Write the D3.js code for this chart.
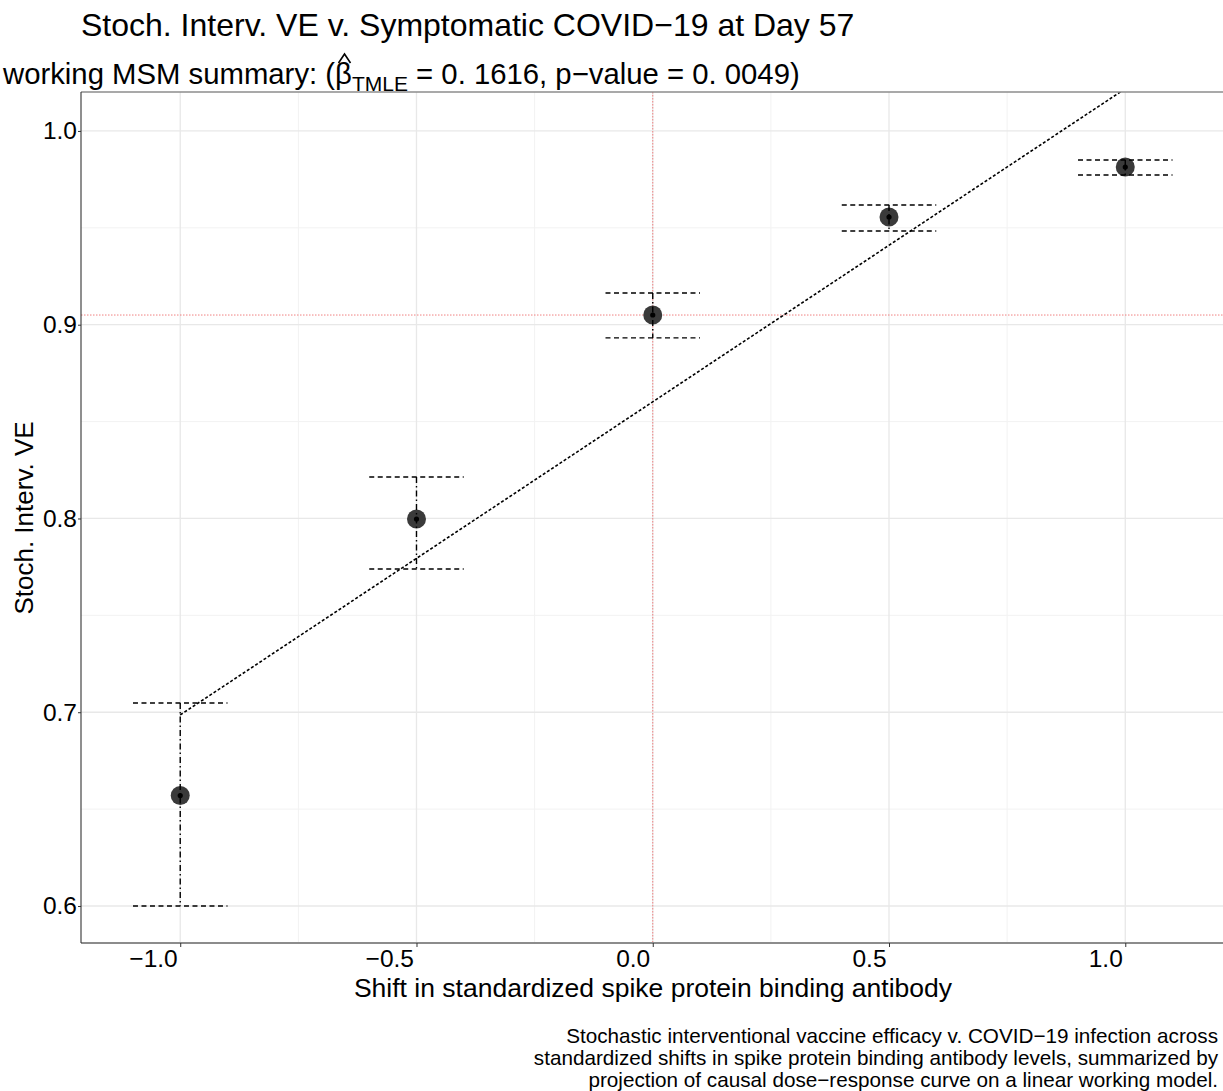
<!DOCTYPE html>
<html>
<head>
<meta charset="utf-8">
<script src="https://cdn.jsdelivr.net/npm/d3@7"></script>
<style>
  html, body { margin: 0; padding: 0; background: #ffffff; }
  svg { display: block; font-family: "Liberation Sans", Arial, Helvetica, sans-serif; }
</style>
</head>
<body>
<svg id="chart" width="1223" height="1091"></svg>
<script>
// Shifts in standardized spike protein binding antibody
const shifts = [-1.0, -0.5, 0.0, 0.5, 1.0];
// Stochastic interventional VE estimates and 95% CI bounds
const veEstimate = [0.657, 0.7997, 0.905, 0.9556, 0.9814];
const veLower    = [0.600, 0.7739, 0.8932, 0.9484, 0.9773];
const veUpper    = [0.7048, 0.8214, 0.9164, 0.9618, 0.9850];
// Linear working MSM
const msmBeta = 0.1616;
const msmIntercept = 0.8602;
const msmRange = [-1.0, 1.0];
// Axis ticks
const xTicks = [-1.0, -0.5, 0.0, 0.5, 1.0];
const xMinorTicks = [-0.75, -0.25, 0.25, 0.75];
const yTicks = [0.6, 0.7, 0.8, 0.9, 1.0];
const yMinorTicks = [0.65, 0.75, 0.85, 0.95];

const svg = d3.select("#chart");
const W = 1223, H = 1091;
const panel = { left: 81, right: 1224.5, top: 92, bottom: 943 };

const x = d3.scaleLinear().domain([-1.21, 1.21]).range([panel.left, panel.right]);
const y = d3.scaleLinear().domain([0.5809, 1.0201]).range([panel.bottom, panel.top]);

svg.append("rect").attr("width", W).attr("height", H).attr("fill", "#ffffff");

svg.append("defs").append("clipPath").attr("id", "panelClip")
  .append("rect")
  .attr("x", panel.left).attr("y", panel.top)
  .attr("width", panel.right - panel.left).attr("height", panel.bottom - panel.top);

const grid = svg.append("g");
// minor grid
grid.selectAll(".xminor").data(xMinorTicks).join("line")
  .attr("x1", d => x(d)).attr("x2", d => x(d))
  .attr("y1", panel.top).attr("y2", panel.bottom)
  .attr("stroke", "#f2f2f2").attr("stroke-width", 1);
grid.selectAll(".yminor").data(yMinorTicks).join("line")
  .attr("y1", d => y(d)).attr("y2", d => y(d))
  .attr("x1", panel.left).attr("x2", panel.right)
  .attr("stroke", "#f2f2f2").attr("stroke-width", 1);
// major grid
grid.selectAll(".xmajor").data(xTicks).join("line")
  .attr("x1", d => x(d)).attr("x2", d => x(d))
  .attr("y1", panel.top).attr("y2", panel.bottom)
  .attr("stroke", "#e8e8e8").attr("stroke-width", 1.3);
grid.selectAll(".ymajor").data(yTicks).join("line")
  .attr("y1", d => y(d)).attr("y2", d => y(d))
  .attr("x1", panel.left).attr("x2", panel.right)
  .attr("stroke", "#e8e8e8").attr("stroke-width", 1.3);

const plot = svg.append("g").attr("clip-path", "url(#panelClip)");

// reference lines at zero shift and its VE
plot.append("line")
  .attr("x1", panel.left).attr("x2", panel.right)
  .attr("y1", y(veEstimate[2])).attr("y2", y(veEstimate[2]))
  .attr("stroke", "#f08080").attr("stroke-width", 1).attr("stroke-dasharray", "1.5,1.5");
plot.append("line")
  .attr("x1", x(0)).attr("x2", x(0))
  .attr("y1", panel.top).attr("y2", panel.bottom)
  .attr("stroke", "#f08080").attr("stroke-width", 1).attr("stroke-dasharray", "1.5,1.5");

const capHalf = 0.1;
const rows = shifts.map((s, i) => ({ s, est: veEstimate[i], lo: veLower[i], hi: veUpper[i] }));

// points
plot.selectAll(".pt").data(rows).join("circle")
  .attr("cx", d => x(d.s)).attr("cy", d => y(d.est))
  .attr("r", 9.5).attr("fill", "#3a3a3a");

// error bars
const eb = plot.selectAll(".eb").data(rows).join("g");
eb.append("line")
  .attr("x1", d => x(d.s - capHalf)).attr("x2", d => x(d.s + capHalf))
  .attr("y1", d => y(d.hi)).attr("y2", d => y(d.hi))
  .attr("stroke", "#000").attr("stroke-width", 1.4).attr("stroke-dasharray", "5,3.5");
eb.append("line")
  .attr("x1", d => x(d.s - capHalf)).attr("x2", d => x(d.s + capHalf))
  .attr("y1", d => y(d.lo)).attr("y2", d => y(d.lo))
  .attr("stroke", "#000").attr("stroke-width", 1.4).attr("stroke-dasharray", "5,3.5");
eb.append("line")
  .attr("x1", d => x(d.s)).attr("x2", d => x(d.s))
  .attr("y1", d => y(d.hi)).attr("y2", d => y(d.lo))
  .attr("stroke", "#000").attr("stroke-width", 1.4).attr("stroke-dasharray", "6,3,1.5,3");
// center marks
plot.selectAll(".ctr").data(rows).join("circle")
  .attr("cx", d => x(d.s)).attr("cy", d => y(d.est))
  .attr("r", 2.6).attr("fill", "#000");

// MSM projection line
const msmPts = msmRange.map(s => [s, msmIntercept + msmBeta * s]);
plot.append("path")
  .datum(msmPts)
  .attr("d", d3.line().x(d => x(d[0])).y(d => y(d[1])))
  .attr("fill", "none").attr("stroke", "#000").attr("stroke-width", 1.6)
  .attr("stroke-dasharray", "3,2");

// panel borders
svg.append("line").attr("x1", panel.left).attr("x2", W).attr("y1", panel.top).attr("y2", panel.top)
  .attr("stroke", "#8c8c8c").attr("stroke-width", 1.5);
svg.append("line").attr("x1", panel.left).attr("x2", W).attr("y1", panel.bottom).attr("y2", panel.bottom)
  .attr("stroke", "#8c8c8c").attr("stroke-width", 2);
svg.append("line").attr("x1", panel.left).attr("x2", panel.left).attr("y1", panel.top).attr("y2", panel.bottom)
  .attr("stroke", "#333").attr("stroke-width", 1.1);

// axes
const fmt = d => d3.format(".1f")(d).replace("-", "\u2212");
const xAxis = svg.append("g").attr("transform", `translate(0,${panel.bottom})`)
  .call(d3.axisBottom(x).tickValues(xTicks).tickFormat(fmt).tickSize(4).tickPadding(3));
const yAxis = svg.append("g").attr("transform", `translate(${panel.left},0)`)
  .call(d3.axisLeft(y).tickValues(yTicks).tickFormat(fmt).tickSize(3).tickPadding(1));
[xAxis, yAxis].forEach(a => {
  a.select(".domain").remove();
  a.selectAll(".tick line").attr("stroke", "#333").attr("stroke-width", 1);
  a.selectAll(".tick text").attr("fill", "#000")
    .style("font-family", "'Liberation Sans', Arial, sans-serif").style("font-size", "24.5px");
});
// x tick labels sit right-justified against their ticks
xAxis.selectAll(".tick text").attr("text-anchor", "end").attr("x", -3);

// axis titles
svg.append("text").attr("x", 653).attr("y", 997).attr("text-anchor", "middle")
  .style("font-size", "26.5px").attr("fill", "#000")
  .text("Shift in standardized spike protein binding antibody");
svg.append("text").attr("transform", "translate(33,518) rotate(-90)").attr("text-anchor", "middle")
  .style("font-size", "26px").attr("fill", "#000")
  .text("Stoch. Interv. VE");

// title
svg.append("text").attr("x", 81).attr("y", 36)
  .style("font-size", "32px").attr("fill", "#000")
  .text("Stoch. Interv. VE v. Symptomatic COVID\u221219 at Day 57");

// subtitle with beta-hat subscript
const subX = 3, subY = 84;
const sub = svg.append("text").attr("x", subX).attr("y", subY).style("font-size", "29.3px").attr("fill", "#000");
const pre = sub.append("tspan").text("working MSM summary: (");
const beta = sub.append("tspan").text("\u03b2");
sub.append("tspan").attr("dy", 7).style("font-size", "21px").text("TMLE");
sub.append("tspan").attr("dy", -7).text(` = 0. ${msmBeta.toFixed(4).slice(2)}, p\u2212value = 0. 0049)`);
const preW = pre.node().getComputedTextLength();
const betaW = beta.node().getComputedTextLength();
const hatX = subX + preW + betaW / 2 + 1;
svg.append("path")
  .attr("d", `M${hatX - 6},${subY - 21} L${hatX},${subY - 30} L${hatX + 6},${subY - 21}`)
  .attr("fill", "none").attr("stroke", "#000").attr("stroke-width", 1.6);

// caption
const caption = [
  "Stochastic interventional vaccine efficacy v. COVID\u221219 infection across",
  "standardized shifts in spike protein binding antibody levels, summarized by",
  "projection of causal dose\u2212response curve on a linear working model."
];
svg.append("g").selectAll("text").data(caption).join("text")
  .attr("x", 1218).attr("y", (d, i) => 1043 + i * 21.8)
  .attr("text-anchor", "end").style("font-size", "20.7px").attr("fill", "#000")
  .text(d => d);
</script>
</body>
</html>
